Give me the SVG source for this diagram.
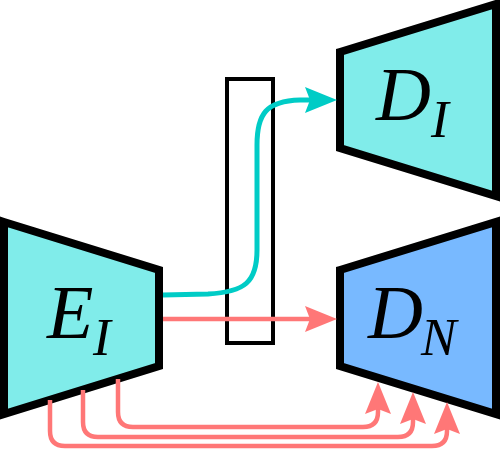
<svg xmlns="http://www.w3.org/2000/svg" width="500" height="450" viewBox="0 0 500 450">
<style>
.node{stroke:#000;stroke-width:8;stroke-linejoin:miter}
.cyan{fill:#80ECEA}
.blue{fill:#78B9FF}
.lbl{font-family:"Liberation Serif","DejaVu Serif",serif;font-style:italic;fill:#000}
.big{font-size:76px}
.sub{font-size:53px}
.c{fill:none;stroke:#00CCC6;stroke-width:5}
.r{fill:none;stroke:#FF7777;stroke-width:4.5}
</style>
<defs>
<marker id="ac" markerUnits="userSpaceOnUse" markerWidth="32" markerHeight="26" refX="5" refY="13" orient="auto" viewBox="0 0 32 26">
<path d="M0,0 L32,13 L0,26 L5,13 z" fill="#00CCC6"/>
</marker>
<marker id="ar" markerUnits="userSpaceOnUse" markerWidth="32" markerHeight="26" refX="5" refY="13" orient="auto" viewBox="0 0 32 26">
<path d="M0,0 L32,13 L0,26 L5,13 z" fill="#FF7777"/>
</marker>
</defs>
<g id="bottleneck">
<rect x="227" y="79" width="46" height="264" fill="none" stroke="#000" stroke-width="4"/>
</g>
<g id="EI">
<polygon class="node cyan" points="4,222 159,270 159,366 4,414"/>
<text class="lbl big" x="47" y="338">E</text>
<text class="lbl sub" x="93" y="355">I</text>
</g>
<g id="DI">
<polygon class="node cyan" points="340,52 496,4 496,196 340,148"/>
<text class="lbl big" x="376" y="120">D</text>
<text class="lbl sub" x="431" y="137">I</text>
</g>
<g id="DN">
<polygon class="node blue" points="340,270 496,222 496,414 340,366"/>
<text class="lbl big" x="368" y="338">D</text>
<text class="lbl sub" x="421" y="355">N</text>
</g>
<g id="connectors">
<path class="c" d="M163,295 L208,294 C245,292 257,282 257,250 L257,145 C257,114 266,101 300,100 L310,100" marker-end="url(#ac)"/>
<path class="r" d="M163,319 L310,319" marker-end="url(#ar)"/>
<path class="r" d="M118,379 V412 Q118,427 133,427 H363 Q378,427 378,412 V409" marker-end="url(#ar)"/>
<path class="r" d="M83,390 V422 Q83,437 98,437 H398 Q413,437 413,422 V419" marker-end="url(#ar)"/>
<path class="r" d="M50,400 V431 Q50,446 65,446 H432 Q447,446 447,431 V429" marker-end="url(#ar)"/>
</g>
</svg>
